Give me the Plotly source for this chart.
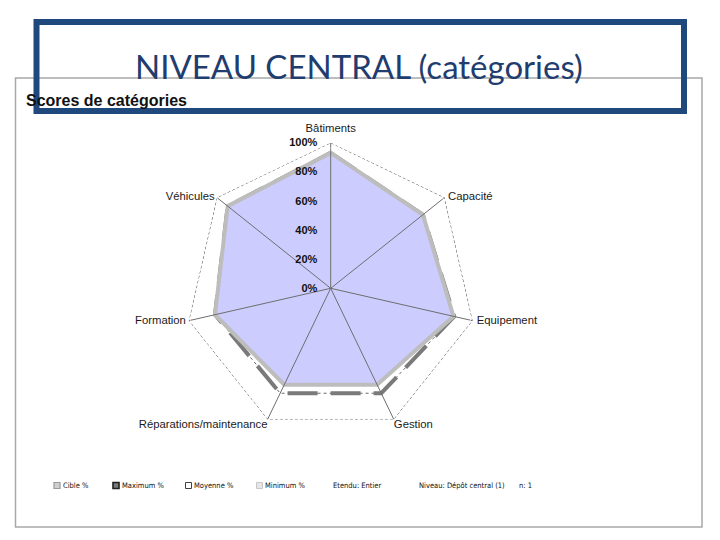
import plotly.graph_objects as go

# données (scores de catégories, fraction de 1)
categories = ["Bâtiments", "Capacité", "Equipement", "Gestion",
              "Réparations/maintenance", "Formation", "Véhicules"]
cible = [0.93, 0.81, 0.865, 0.735, 0.735, 0.815, 0.905]
maximum = [0.93, 0.81, 0.87, 0.80, 0.80, 0.815, 0.905]
limite = [1, 1, 1, 1, 1, 1, 1]
radial_ticks = [0, 0.2, 0.4, 0.6, 0.8, 1.0]

legend_items = ["Cible %", "Maximum %", "Moyenne %", "Minimum %"]
info_items = ["Etendu: Entier", "Niveau: Dépôt central (1)", "n: 1"]

W, H = 720, 540
OX, OY = 8, 8  # marge par défaut du <body> de la page


def px(x):
    return (x - OX) / W


def py(y):
    return 1 - (y - OY) / H


def closed(values):
    return list(values) + [values[0]]


cats = closed(categories)

fig = go.Figure()

# contour 100 % en pointillé
fig.add_trace(go.Scatterpolar(
    r=closed(limite), theta=cats, mode="lines",
    line=dict(color="#4a4a4a", width=1, dash="3px,2px"),
    hoverinfo="skip", showlegend=False,
))
# maximum / moyenne : trait fin + tirets épais
fig.add_trace(go.Scatterpolar(
    r=closed(maximum), theta=cats, mode="lines",
    line=dict(color="#6a6a6a", width=1, dash="3px,3px"),
    showlegend=False, name="Moyenne %",
))
fig.add_trace(go.Scatterpolar(
    r=closed(maximum), theta=cats, mode="lines",
    line=dict(color="#7a7a7a", width=4, dash="30px,13px"),
    showlegend=False, name="Maximum %",
))
# cible : surface remplie
fig.add_trace(go.Scatterpolar(
    r=closed(cible), theta=cats, mode="lines", fill="toself",
    fillcolor="#ccccff", line=dict(color="#bdbdbd", width=4),
    showlegend=False, name="Cible %",
))
# rayons au-dessus de la surface
spoke_r, spoke_t = [], []
for c, lim in zip(categories, limite):
    spoke_r += [0, lim, None]
    spoke_t += [c, c, None]
fig.add_trace(go.Scatterpolar(
    r=spoke_r, theta=spoke_t, mode="lines",
    line=dict(color="#6e6e6e", width=1),
    hoverinfo="skip", showlegend=False, connectgaps=False,
))
# noms des catégories aux sommets (marqueurs invisibles pour l'écart)
fig.add_trace(go.Scatterpolar(
    r=limite, theta=categories, mode="markers+text", text=categories,
    marker=dict(size=[11, 4, 5, 0, 0, 3, 2], color="rgba(0,0,0,0)"),
    textposition=["top center", "middle right", "middle right",
                  "bottom right", "bottom left", "middle left",
                  "middle left"],
    textfont=dict(size=11.3, color="#1a1a1a"),
    hoverinfo="skip", showlegend=False, cliponaxis=False,
))

cx, cy, R = 330.7, 288.3, 145.6

fig.update_layout(
    width=W, height=H,
    margin=dict(l=0, r=0, t=0, b=0),
    paper_bgcolor="white",
    font=dict(family="Liberation Sans, Arial", color="#111111"),
    polar=dict(
        domain=dict(x=[px(cx - R), px(cx + R)],
                    y=[py(cy + R), py(cy - R)]),
        gridshape="linear",
        bgcolor="white",
        angularaxis=dict(
            type="category", categoryarray=categories,
            rotation=90, direction="clockwise",
            showline=False, showgrid=False,
            showticklabels=False, ticks="",
        ),
        radialaxis=dict(
            range=[0, 1], angle=90, tickangle=90,
            tickvals=radial_ticks, tickformat=".0%",
            showgrid=False, showline=False,
            ticks="outside", ticklen=9, tickcolor="rgba(0,0,0,0)",
            side="counterclockwise", layer="above traces",
            tickfont=dict(size=11, color="#111111", weight="bold"),
        ),
    ),
)

# cadre gris du graphique
fig.add_shape(type="rect", xref="paper", yref="paper",
              x0=px(15.5), x1=px(702), y0=py(527), y1=py(78),
              line=dict(color="#a8a8a8", width=1.5), layer="below")

fig.add_annotation(
    text="<b>Scores de catégories</b>", xref="paper", yref="paper",
    x=px(24), y=py(100), xanchor="left", yanchor="middle",
    showarrow=False, font=dict(size=16, color="#111111"),
)

# légende du bas
legend_font = dict(size=7.5, color="#111111",
                   family="Liberation Sans Narrow, DejaVu Sans Condensed, Liberation Sans")
icon_x = [57, 116, 188.5, 259.5]
icon_style = [("#9a9a9a", "#d0d0d0", 1.2), ("#202020", "#7a7a7a", 1.6),
              ("#404040", "#ffffff", 1), ("#c8c8c8", "#e6e6e6", 1)]
ly = 485.5
for x, label, (lc, fc, lw) in zip(icon_x, legend_items, icon_style):
    fig.add_shape(type="rect", xref="paper", yref="paper",
                  x0=px(x - 3), x1=px(x + 3),
                  y0=py(ly + 3), y1=py(ly - 3),
                  line=dict(color=lc, width=lw), fillcolor=fc)
    fig.add_annotation(text=label, xref="paper", yref="paper",
                       x=px(x + 3.5), y=py(ly), xanchor="left",
                       yanchor="middle", showarrow=False, font=legend_font)
for x, label in zip([330.5, 416.5, 516.5], info_items):
    fig.add_annotation(text=label, xref="paper", yref="paper",
                       x=px(x), y=py(ly), xanchor="left",
                       yanchor="middle", showarrow=False, font=legend_font)

# titre de la diapositive
fig.add_shape(type="rect", xref="paper", yref="paper",
              x0=px(36.5), x1=px(684), y0=py(111), y1=py(22),
              line=dict(color="#1f497d", width=6), layer="above")
fig.add_annotation(
    text="NIVEAU CENTRAL (catégories)", xref="paper", yref="paper",
    x=px(358.5), y=py(66), xanchor="center", yanchor="middle",
    showarrow=False, font=dict(size=33, color="#1f3d6e", family="Lato"),
)

fig.write_html("out.html")
